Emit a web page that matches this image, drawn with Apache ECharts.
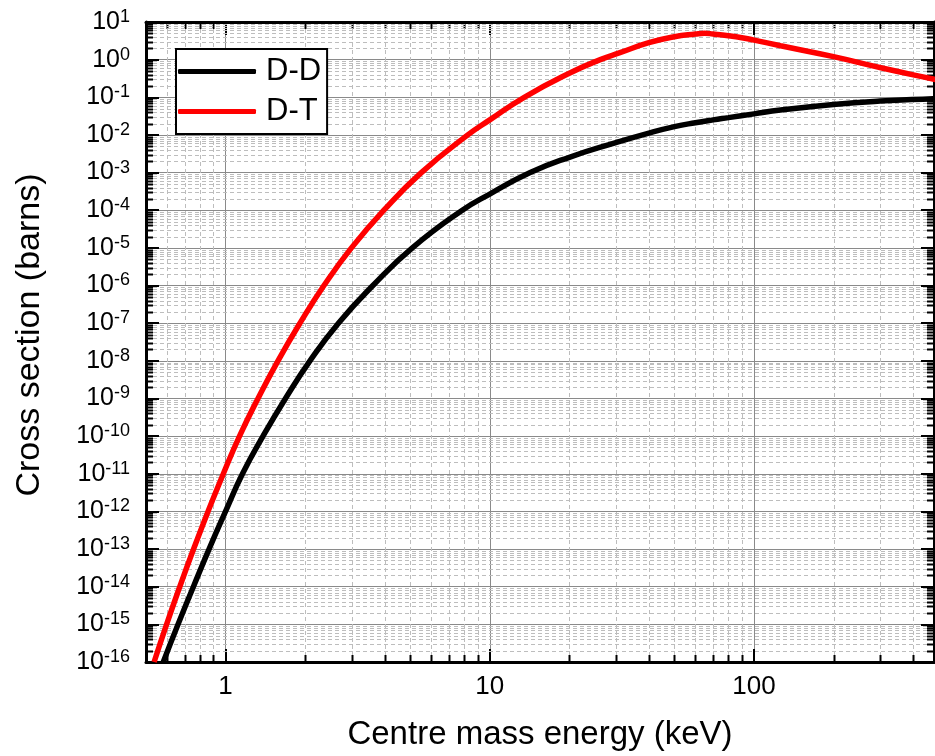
<!DOCTYPE html>
<html>
<head>
<meta charset="utf-8">
<script src="https://cdn.jsdelivr.net/npm/echarts@6/dist/echarts.min.js"></script>
<style>
html,body{margin:0;padding:0;background:#fff;}
#chart{width:935px;height:756px;}
</style>
</head>
<body>
<div id="chart"></div>
<script>
// ---- data (E in keV, sigma in barns) ----
const dtEnergy = [0.5366, 0.5983, 0.6711, 0.7570, 0.8586, 0.9810, 1.1296, 1.3268, 1.5793, 1.9128, 2.3573, 2.9952, 3.9736, 5.5085, 8.2568, 10, 13.5, 20, 26.2, 31.1, 40, 50, 60, 65, 70, 80, 90, 100, 126, 200, 308, 476, 500];
const dtSigma  = [1e-16, 1e-15, 1e-14, 1e-13, 1e-12, 1e-11, 1e-10, 1e-9, 1e-8, 1e-7, 1e-6, 1e-5, 1e-4, 1e-3, 1e-2, 2.51e-2, 0.1, 0.434, 1.0, 1.53, 2.82, 4.07, 4.79, 5.01, 4.79, 4.32, 3.83, 3.31, 2.34, 1.20, 0.589, 0.306, 0.285];

const ddEnergy = [0.5812, 0.6612, 0.7557, 0.8662, 1.0, 1.1593, 1.3862, 1.6857, 2.0865, 2.674, 3.612, 5.0929, 7.871, 10, 14.225, 20, 30, 40, 50, 60, 70, 80, 100, 126, 200, 300, 476, 500];
const ddSigma  = [1e-16, 1e-15, 1e-14, 1e-13, 1e-12, 1e-11, 1e-10, 1e-9, 1e-8, 1e-7, 1e-6, 1e-5, 1e-4, 2.69e-4, 1e-3, 2.55e-3, 6.24e-3, 1.12e-2, 1.66e-2, 2.11e-2, 2.51e-2, 2.88e-2, 3.63e-2, 4.57e-2, 6.46e-2, 7.94e-2, 9.18e-2, 9.3e-2];

const seriesNames = ['D-D', 'D-T'];
const xRange = [0.5, 480];
const yRange = [1e-16, 10];

// minor tick values (log axes: 2..9 per decade)
const xMinorTicks = [];
for (let k = -1; k <= 2; k++) for (let d = 2; d <= 9; d++) {
  const v = d * Math.pow(10, k);
  if (v > xRange[0] && v < xRange[1]) xMinorTicks.push(v);
}
const yMinorTicks = [];
for (let k = -16; k <= 0; k++) for (let d = 2; d <= 9; d++) {
  yMinorTicks.push(d * Math.pow(10, k));
}

const FONT = "'Liberation Sans', Arial, sans-serif";
const zip = (a, b) => a.map((v, i) => [v, b[i]]);

function px(v) { return Math.round(v) + 0.5; }

function renderXMinor(params, api) {
  const cs = params.coordSys;
  const x = px(api.coord([api.value(0), 1])[0]);
  const top = cs.y, bot = cs.y + cs.height;
  return {type: 'group', children: [
    {type: 'line', shape: {x1: x, y1: top, x2: x, y2: bot}, style: {stroke: '#bdbdbd', lineWidth: 1, lineDash: [4, 3]}},
    {type: 'line', shape: {x1: x, y1: bot, x2: x, y2: bot - 7}, style: {stroke: '#000', lineWidth: 2}},
    {type: 'line', shape: {x1: x, y1: top, x2: x, y2: top + 7}, style: {stroke: '#000', lineWidth: 2}}
  ]};
}
function renderYMinor(params, api) {
  const cs = params.coordSys;
  const y = px(api.coord([1, api.value(1)])[1]);
  const left = cs.x, right = cs.x + cs.width;
  return {type: 'group', children: [
    {type: 'line', shape: {x1: left, y1: y, x2: right, y2: y}, style: {stroke: '#bdbdbd', lineWidth: 1, lineDash: [4, 3]}},
    {type: 'line', shape: {x1: left, y1: y, x2: left + 7, y2: y}, style: {stroke: '#000', lineWidth: 2}},
    {type: 'line', shape: {x1: right, y1: y, x2: right - 7, y2: y}, style: {stroke: '#000', lineWidth: 2}}
  ]};
}

const axisCommon = {
  type: 'log',
  logBase: 10,
  axisLine: {show: true, onZero: false, lineStyle: {color: '#000', width: 3}},
  axisTick: {show: true, inside: true, length: 13, lineStyle: {color: '#000', width: 2}},
  minorTick: {show: false},
  minorSplitLine: {show: false}
};

const chart = echarts.init(document.getElementById('chart'), null, {renderer: 'canvas'});
chart.setOption({
  backgroundColor: '#fff',
  animation: false,
  textStyle: {fontFamily: FONT},
  grid: {left: 146, top: 22, width: 788, height: 640, containLabel: false},
  legend: {
    orient: 'vertical',
    left: 176, top: 49,
    data: seriesNames.map(n => ({name: n, icon: 'roundRect'})),
    backgroundColor: '#fff',
    borderColor: '#000',
    borderWidth: 2,
    borderRadius: 0,
    padding: [7, 6, 7, 2],
    itemWidth: 78,
    itemHeight: 5,
    itemGap: 9,
    textStyle: {fontSize: 31, color: '#000', fontFamily: FONT, padding: [0, 0, 0, 5]}
  },
  xAxis: [
    Object.assign({}, axisCommon, {
      position: 'bottom',
      min: xRange[0], max: xRange[1],
      name: 'Centre mass energy (keV)',
      nameLocation: 'middle',
      nameGap: 56,
      nameTextStyle: {fontSize: 33, color: '#000', fontFamily: FONT},
      axisLabel: {show: true, margin: 12, fontSize: 26, color: '#000', fontFamily: FONT,
        showMinLabel: false, showMaxLabel: false,
        formatter: v => String(Math.round(v))},
      splitLine: {show: true, lineStyle: {color: '#8a8a8a', width: 1}}
    }),
    Object.assign({}, axisCommon, {
      position: 'top',
      min: xRange[0], max: xRange[1],
      axisLabel: {show: false},
      splitLine: {show: false}
    })
  ],
  yAxis: [
    Object.assign({}, axisCommon, {
      position: 'left',
      min: yRange[0], max: yRange[1],
      interval: 1,
      name: 'Cross section (barns)',
      nameLocation: 'middle',
      nameGap: 99,
      nameTextStyle: {fontSize: 34, color: '#000', fontFamily: FONT, padding: [0, 0, 0, 14]},
      axisLabel: {show: true, margin: 16, color: '#000', fontFamily: FONT,
        formatter: v => '{b|10}{s|' + Math.round(Math.log10(v)) + '}',
        rich: {
          b: {fontSize: 25, lineHeight: 28, color: '#000', fontFamily: FONT},
          s: {fontSize: 18, lineHeight: 18, verticalAlign: 'top', color: '#000', fontFamily: FONT}
        }},
      splitLine: {show: true, lineStyle: {color: '#8a8a8a', width: 1}}
    }),
    Object.assign({}, axisCommon, {
      position: 'right',
      min: yRange[0], max: yRange[1],
      interval: 1,
      axisLabel: {show: false},
      splitLine: {show: false}
    })
  ],
  series: [
    {
      type: 'custom', name: 'xminor', silent: true, z: 1,
      xAxisIndex: 0, yAxisIndex: 0,
      renderItem: renderXMinor,
      data: xMinorTicks.map(v => [v, 1])
    },
    {
      type: 'custom', name: 'yminor', silent: true, z: 1,
      xAxisIndex: 0, yAxisIndex: 0,
      renderItem: renderYMinor,
      data: yMinorTicks.map(v => [1, v])
    },
    {
      name: seriesNames[0], type: 'line', z: 5,
      xAxisIndex: 0, yAxisIndex: 0,
      data: zip(ddEnergy, ddSigma),
      symbol: 'none', smooth: 0.5,
      lineStyle: {color: '#000', width: 5.5},
      itemStyle: {color: '#000'}
    },
    {
      name: seriesNames[1], type: 'line', z: 5,
      xAxisIndex: 0, yAxisIndex: 0,
      data: zip(dtEnergy, dtSigma),
      symbol: 'none', smooth: 0.5,
      lineStyle: {color: '#ff0000', width: 5.5},
      itemStyle: {color: '#ff0000'}
    }
  ]
});
</script>
</body>
</html>
